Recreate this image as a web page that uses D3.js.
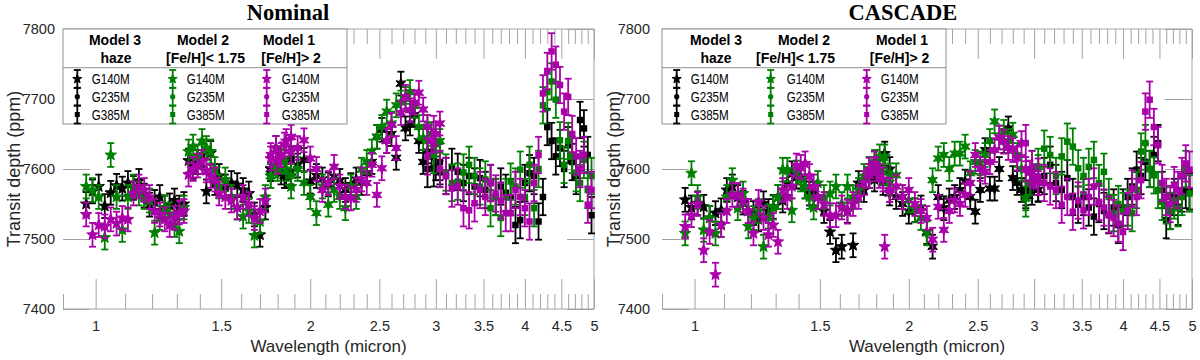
<!DOCTYPE html>
<html>
<head>
<meta charset="utf-8">
<script src="https://cdn.jsdelivr.net/npm/d3@7"></script>
<style>
  body { margin: 0; background: #fff; }
  svg { display: block; }
</style>
</head>
<body>
<div id="chart"></div>
<script>
// wavelength grids (micron), one per grating
const wlG140 = [0.97,0.99,1.01,1.03,1.05,1.07,1.09,1.11,1.13,1.15,1.17,1.19,1.21,1.23,1.25,1.27,1.29,1.31,1.33,1.35,1.37,1.39,1.41,1.43,1.45,1.47,1.49,1.52,1.55,1.58,1.61,1.64,1.67,1.70,1.73,1.76,1.79,1.82,1.85,1.88];
const wlG235 = [1.76,1.80,1.84,1.88,1.92,1.96,2.00,2.04,2.08,2.12,2.16,2.20,2.24,2.28,2.32,2.36,2.40,2.44,2.48,2.52,2.56,2.60,2.64,2.68,2.72,2.76,2.80,2.84,2.88,2.92,2.96,3.00,3.04];
const wlG395 = [2.92,2.98,3.04,3.10,3.16,3.22,3.28,3.34,3.40,3.46,3.52,3.58,3.64,3.70,3.76,3.82,3.88,3.94,4.00,4.06,4.12,4.18,4.24,4.30,4.36,4.42,4.48,4.54,4.60,4.66,4.72,4.78,4.84,4.90,4.96];

// typical 1-sigma errors (ppm)
const errG140 = 17, errG235 = 17, errG395 = 26;

// Nominal reduction, transit depth (ppm)
const nomG140_m3 = [7550,7568,7575,7547,7566,7576,7572,7580,7573,7583,7562,7549,7553,7560,7545,7548,7555,7545,7550,7612,7603,7610,7620,7568,7623,7580,7590,7575,7580,7577,7570,7565,7535,7506,7545,7600,7630,7595,7590,7615];
const nomG140_m2 = [7575,7570,7560,7502,7620,7560,7513,7560,7575,7565,7560,7555,7509,7530,7545,7535,7520,7511,7545,7625,7632,7618,7640,7630,7625,7600,7575,7585,7560,7545,7532,7540,7505,7525,7560,7590,7605,7612,7600,7575];
const nomG140_m1 = [7535,7506,7520,7518,7528,7522,7530,7528,7565,7575,7570,7560,7540,7535,7528,7520,7530,7538,7540,7592,7600,7605,7610,7598,7590,7585,7565,7560,7555,7545,7560,7550,7530,7540,7555,7615,7630,7620,7640,7625];
const nomG235_m3 = [7600,7610,7590,7595,7605,7613,7582,7590,7585,7578,7589,7583,7570,7577,7585,7580,7594,7610,7646,7656,7640,7650,7616,7722,7658,7665,7677,7640,7610,7625,7620,7601,7595];
const nomG235_m2 = [7590,7600,7610,7590,7600,7580,7560,7537,7575,7549,7570,7560,7544,7575,7560,7599,7610,7625,7646,7660,7682,7665,7691,7695,7700,7710,7690,7660,7644,7660,7650,7635,7640];
const nomG235_m1 = [7620,7610,7635,7646,7630,7641,7615,7600,7570,7580,7603,7575,7560,7558,7570,7585,7580,7606,7563,7601,7640,7663,7630,7680,7703,7684,7695,7709,7685,7660,7640,7650,7665];
const nomG395_m3 = [7600,7601,7610,7590,7603,7596,7580,7590,7575,7587,7570,7580,7560,7575,7566,7560,7520,7527,7580,7594,7590,7525,7560,7660,7640,7618,7630,7600,7634,7610,7590,7670,7658,7620,7534];
const nomG395_m2 = [7640,7620,7600,7595,7580,7582,7595,7606,7590,7575,7585,7544,7560,7530,7560,7582,7575,7599,7560,7606,7544,7600,7691,7710,7725,7699,7641,7606,7640,7620,7594,7580,7613,7570,7590];
const nomG395_m1 = [7618,7650,7600,7590,7572,7575,7544,7541,7551,7570,7560,7580,7565,7555,7537,7537,7570,7560,7544,7525,7580,7620,7708,7740,7768,7749,7720,7682,7703,7650,7618,7600,7620,7549,7570];

// CASCADE reduction, transit depth (ppm)
const casG140_m3 = [7556,7545,7551,7546,7530,7537,7541,7570,7575,7560,7552,7540,7537,7528,7551,7540,7546,7560,7555,7580,7594,7589,7589,7575,7565,7565,7560,7540,7510,7484,7489,7540,7491,7580,7570,7590,7585,7600,7622,7600];
const casG140_m2 = [7508,7594,7560,7513,7530,7508,7520,7560,7584,7544,7565,7518,7530,7540,7489,7532,7545,7560,7599,7599,7541,7595,7585,7575,7560,7545,7580,7560,7565,7575,7550,7575,7560,7570,7590,7600,7610,7618,7618,7591];
const casG140_m1 = [7518,7534,7550,7484,7510,7449,7520,7540,7563,7563,7555,7540,7508,7553,7530,7506,7520,7496,7570,7560,7575,7605,7603,7608,7590,7575,7560,7550,7534,7534,7545,7539,7550,7560,7580,7599,7608,7590,7489,7570];
const casG235_m3 = [7590,7600,7580,7565,7560,7550,7539,7541,7545,7510,7489,7560,7544,7555,7560,7570,7582,7560,7539,7570,7627,7572,7572,7600,7640,7658,7587,7580,7570,7565,7575,7580,7570];
const casG235_m2 = [7600,7610,7595,7580,7591,7560,7555,7541,7530,7508,7584,7615,7620,7600,7622,7622,7632,7594,7610,7608,7620,7640,7668,7645,7653,7640,7649,7620,7600,7558,7580,7590,7603];
const casG235_m1 = [7590,7600,7585,7570,7575,7560,7570,7550,7540,7530,7499,7546,7513,7540,7555,7550,7563,7580,7620,7600,7596,7610,7627,7645,7639,7630,7627,7615,7637,7600,7595,7589,7580];
const casG395_m3 = [7570,7575,7580,7590,7606,7580,7570,7587,7560,7549,7560,7545,7532,7550,7540,7534,7545,7520,7545,7560,7575,7599,7590,7610,7600,7620,7637,7570,7527,7540,7560,7546,7565,7570,7568];
const casG395_m2 = [7558,7600,7603,7629,7620,7590,7618,7639,7632,7601,7590,7603,7613,7580,7596,7560,7537,7550,7540,7545,7537,7570,7625,7637,7600,7591,7570,7553,7548,7540,7555,7544,7560,7600,7565];
const casG395_m1 = [7637,7600,7589,7580,7575,7570,7549,7560,7539,7555,7541,7560,7575,7553,7545,7535,7530,7522,7510,7540,7572,7560,7584,7682,7699,7660,7634,7580,7560,7550,7577,7570,7590,7608,7599];

// axis ticks and legend text
const xMajor = [1, 1.5, 2, 2.5, 3, 3.5, 4, 4.5, 5];
const xMinor = [0.9,1.1,1.2,1.3,1.4,1.6,1.7,1.8,1.9,2.1,2.2,2.3,2.4,2.6,2.7,2.8,2.9,3.1,3.2,3.3,3.4,3.6,3.7,3.8,3.9,4.1,4.2,4.3,4.4,4.6,4.7,4.8,4.9];
const yTicks = [7400, 7500, 7600, 7700, 7800];
const modelNames = ['Model 3', 'Model 2', 'Model 1'];
const modelSubs = ['haze', '[Fe/H]< 1.75', '[Fe/H]> 2'];
const gratingNames = ['G140M', 'G235M', 'G385M'];

const modelColors = ['#000000', '#008000', '#aa00aa'];
const gridGray = '#a3a3a3';
const textGray = '#262626';
const yTop = 29, yBot = 309;

const svg = d3.select('#chart').append('svg')
  .attr('width', 1200).attr('height', 360)
  .style('font-family', '"Liberation Sans", Arial, sans-serif');

function starPath(n, R, r) {
  const pts = [];
  for (let i = 0; i < 2 * n; i++) {
    const a = -Math.PI / 2 + i * Math.PI / n;
    const rad = i % 2 === 0 ? R : r;
    pts.push((rad * Math.cos(a)).toFixed(3) + ',' + (rad * Math.sin(a)).toFixed(3));
  }
  return 'M' + pts.join('L') + 'Z';
}

// draw a marker of grating index g at (cx, cy)
function marker(sel, g, cx, cy, color, small) {
  if (g === 0) {
    sel.append('path').attr('d', starPath(5, small ? 4.8 : 6, small ? 2 : 2.5))
      .attr('transform', `translate(${cx},${cy})`)
      .attr('fill', color).attr('stroke', color).attr('stroke-width', 1);
  } else if (g === 1) {
    if (small) {
      sel.append('circle').attr('cx', cx).attr('cy', cy).attr('r', 2.6).attr('fill', color);
    } else {
      sel.append('path').attr('d', starPath(6, 5.6, 2.6))
        .attr('transform', `translate(${cx},${cy})`)
        .attr('fill', color).attr('stroke', color).attr('stroke-width', 1);
    }
  } else {
    const s = small ? 5 : 6.5;
    sel.append('rect').attr('x', cx - s / 2).attr('y', cy - s / 2)
      .attr('width', s).attr('height', s).attr('fill', color);
  }
}

function errBar(sel, cx, yLo, yHi, color) {
  sel.append('line').attr('x1', cx).attr('x2', cx).attr('y1', yLo).attr('y2', yHi)
    .attr('stroke', color).attr('stroke-width', 1.8);
  [yLo, yHi].forEach(yy => {
    sel.append('line').attr('x1', cx - 3.5).attr('x2', cx + 3.5).attr('y1', yy).attr('y2', yy)
      .attr('stroke', color).attr('stroke-width', 1.8);
  });
}

const gratingWl = [wlG140, wlG235, wlG395];
const gratingErr = [errG140, errG235, errG395];

const panels = [
  {
    x0: 63, x1: 594, title: 'Nominal', titleX: 288, ylabX: 20, yPad: 8,
    series: [
      [nomG140_m3, nomG235_m3, nomG395_m3],
      [nomG140_m2, nomG235_m2, nomG395_m2],
      [nomG140_m1, nomG235_m1, nomG395_m1]
    ],
    leg: { x0: 63, x1: 347, head: [115, 203, 289], sub: [116, 205.5, 291],
           mk: [77.3, 172.7, 266.7], tx: [91.7, 186.7, 281.7] }
  },
  {
    x0: 662, x1: 1192, title: 'CASCADE', titleX: 903, ylabX: 620, yPad: 12,
    series: [
      [casG140_m3, casG235_m3, casG395_m3],
      [casG140_m2, casG235_m2, casG395_m2],
      [casG140_m1, casG235_m1, casG395_m1]
    ],
    leg: { x0: 662, x1: 946, head: [716, 804, 902], sub: [716, 795.5, 899.5],
           mk: [676.7, 770.7, 866.7], tx: [690.7, 786.7, 880.7] }
  }
];

panels.forEach(p => {
  const x = d3.scaleLog().domain([0.9, 5]).range([p.x0, p.x1]);
  const y = d3.scaleLinear().domain([7400, 7800]).range([yBot, yTop]);
  const g = svg.append('g');

  const styleAxis = a => {
    a.select('.domain').remove();
    a.selectAll('line').attr('stroke', gridGray).attr('stroke-width', 1);
    a.selectAll('text').attr('fill', textGray).attr('font-size', 14.5)
      .attr('font-family', '"Liberation Sans", Arial, sans-serif');
  };

  // bottom ticks with labels, and minor ticks
  g.append('g').attr('transform', `translate(0,${yBot})`)
    .call(d3.axisBottom(x).tickValues(xMajor).tickSize(-30).tickPadding(12).tickFormat(d => String(d)))
    .call(styleAxis);
  g.append('g').attr('transform', `translate(0,${yBot})`)
    .call(d3.axisBottom(x).tickValues(xMinor).tickSize(-15).tickFormat(''))
    .call(styleAxis);
  // top ticks
  g.append('g').attr('transform', `translate(0,${yTop})`)
    .call(d3.axisTop(x).tickValues(xMajor).tickSize(-30).tickFormat(''))
    .call(styleAxis);
  g.append('g').attr('transform', `translate(0,${yTop})`)
    .call(d3.axisTop(x).tickValues(xMinor).tickSize(-15).tickFormat(''))
    .call(styleAxis);
  // y ticks left (labels) and right
  g.append('g').attr('transform', `translate(${p.x0},0)`)
    .call(d3.axisLeft(y).tickValues(yTicks).tickSize(-27).tickPadding(p.yPad).tickFormat(d => String(d)))
    .call(styleAxis);
  g.append('g').attr('transform', `translate(${p.x1},0)`)
    .call(d3.axisRight(y).tickValues(yTicks).tickSize(-27).tickFormat(''))
    .call(styleAxis);

  // frame: top, right, bottom
  g.append('path')
    .attr('d', `M${p.x0},${yTop}H${p.x1}V${yBot}H${p.x0}`)
    .attr('fill', 'none').attr('stroke', gridGray).attr('stroke-width', 1);

  // axis labels and title
  g.append('text').attr('x', (p.x0 + p.x1) / 2).attr('y', 352)
    .attr('text-anchor', 'middle').attr('font-size', 17).attr('fill', textGray)
    .text('Wavelength (micron)');
  g.append('text').attr('transform', `translate(${p.ylabX},${(yTop + yBot) / 2}) rotate(-90)`)
    .attr('text-anchor', 'middle').attr('font-size', 18).attr('fill', textGray)
    .text('Transit depth (ppm)');
  g.append('text').attr('x', p.titleX).attr('y', 20)
    .attr('text-anchor', 'middle').attr('font-size', 22.5).attr('font-weight', 'bold')
    .attr('font-family', '"Liberation Serif", "Times New Roman", serif')
    .attr('fill', '#000').text(p.title);

  // data
  const dg = g.append('g');
  p.series.forEach((modelSeries, m) => {
    const color = modelColors[m];
    modelSeries.forEach((vals, gi) => {
      const wl = gratingWl[gi], e = gratingErr[gi];
      vals.forEach((v, i) => {
        const cx = x(wl[i]);
        errBar(dg, cx, y(v - e), y(v + e), color);
        marker(dg, gi, cx, y(v), color, false);
      });
    });
  });

  // legend
  const L = p.leg;
  const lg = g.append('g');
  lg.append('rect').attr('x', L.x0).attr('y', yTop).attr('width', L.x1 - L.x0).attr('height', 124 - yTop)
    .attr('fill', '#fff').attr('stroke', '#8f8f8f').attr('stroke-width', 1);
  lg.append('line').attr('x1', L.x0).attr('x2', L.x1).attr('y1', 67.7).attr('y2', 67.7)
    .attr('stroke', '#8f8f8f').attr('stroke-width', 1);
  modelNames.forEach((name, m) => {
    lg.append('text').attr('x', L.head[m]).attr('y', 45).attr('text-anchor', 'middle')
      .attr('font-size', 14).attr('font-weight', 'bold').attr('fill', '#000').text(name);
    lg.append('text').attr('x', L.sub[m]).attr('y', 62.5).attr('text-anchor', 'middle')
      .attr('font-size', 14).attr('font-weight', 'bold').attr('fill', '#000').text(modelSubs[m]);
    gratingNames.forEach((gn, gi) => {
      const base = [84, 101.7, 119.5][gi];
      const cy = base - 5;
      errBar(lg, L.mk[m], cy - 9, cy + 9, modelColors[m]);
      marker(lg, gi, L.mk[m], cy, modelColors[m], true);
      lg.append('text').attr('x', L.tx[m]).attr('y', base)
        .attr('font-size', 15.5).attr('fill', '#000')
        .attr('textLength', 38).attr('lengthAdjust', 'spacingAndGlyphs').text(gn);
    });
  });
});
</script>
</body>
</html>
